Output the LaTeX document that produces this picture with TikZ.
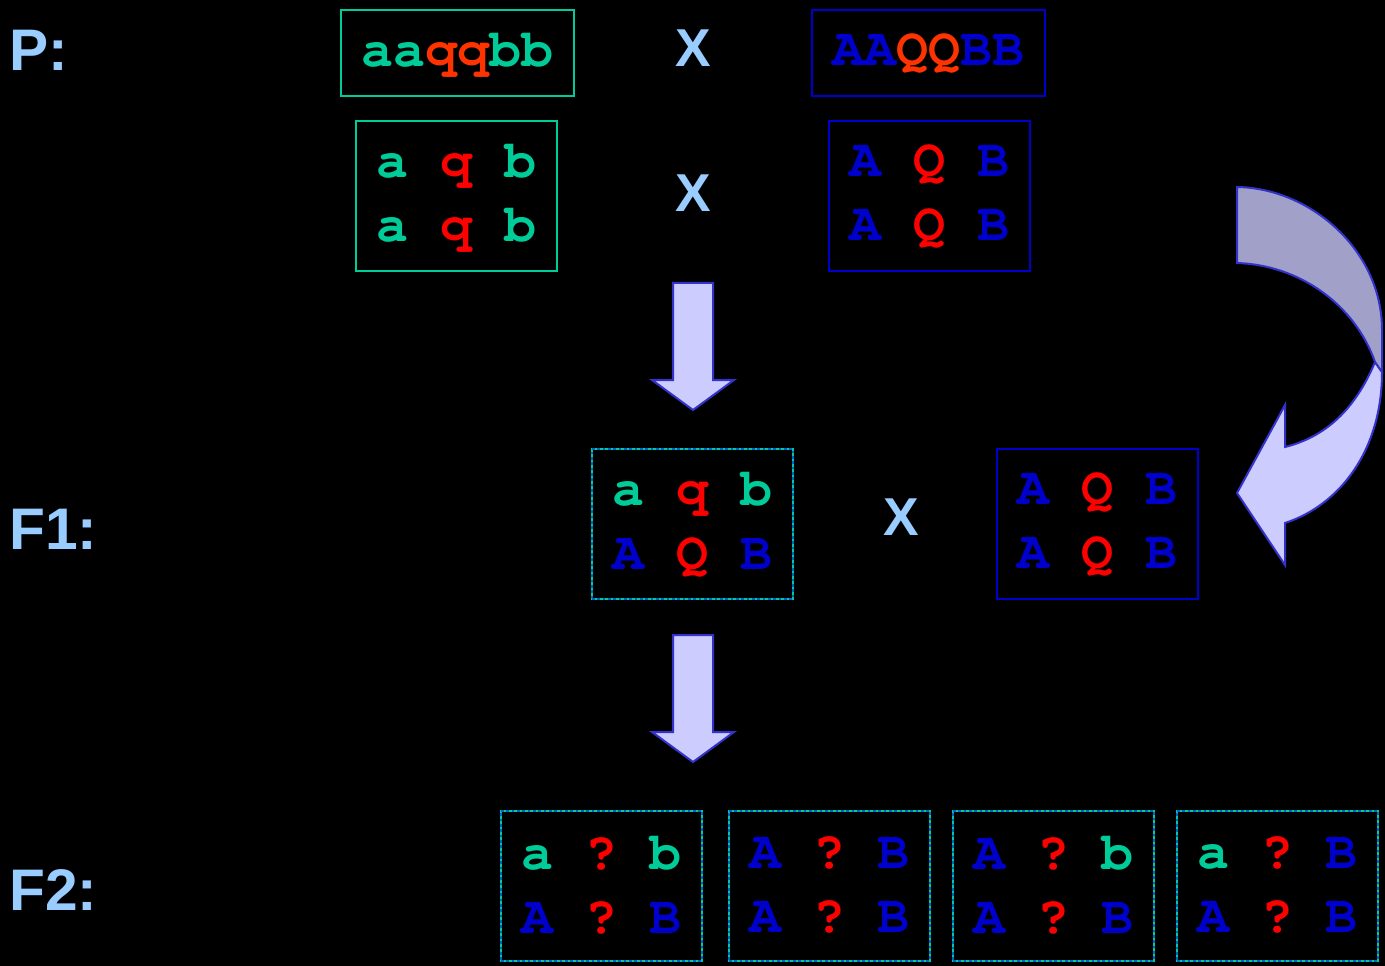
\documentclass[tikz,border=0pt]{standalone}
\usepackage[T1]{fontenc}
\usepackage{fontspec}
\setmainfont{Liberation Sans}
\setmonofont{Liberation Mono}
\usepackage{tikz}
\usetikzlibrary{positioning}

\definecolor{cgreen}{HTML}{00CC99}
\definecolor{cred}{HTML}{FF0000}
\definecolor{corange}{HTML}{FF3300}
\definecolor{cblue}{HTML}{0000CC}
\definecolor{cdash}{HTML}{0066CC}
\definecolor{clabel}{HTML}{99CCFF}
\definecolor{afill}{HTML}{CCCCFF}
\definecolor{adark}{HTML}{A0A0C8}
\definecolor{aline}{HTML}{3333CC}

% allele letters, set in bold Courier
\newcommand{\genefont}{\fontencoding{T1}\fontfamily{pcr}\fontseries{b}\selectfont\fontsize{40}{48}\selectfont\frenchspacing}
\newcommand{\Gn}[1]{\textcolor{cgreen}{#1}}
\newcommand{\Rd}[1]{\textcolor{cred}{#1}}
\newcommand{\Or}[1]{\textcolor{corange}{#1}}
\newcommand{\Bl}[1]{\textcolor{cblue}{#1}}

\tikzstyle{gen} = [line width=1.5pt, inner sep=0pt, align=center, font=\genefont,
  minimum width=150.75pt, minimum height=112.5pt]
\tikzstyle{pgen} = [gen, minimum width=174.75pt, minimum height=64.5pt]
\tikzstyle{greenbox} = [gen, draw=cgreen]
\tikzstyle{bluebox} = [gen, draw=cblue]
\tikzstyle{hybrid} = [gen, draw=cgreen, postaction={draw=cdash, dash pattern=on 2pt off 2pt}]
\tikzstyle{lbl} = [text=clabel, font=\bfseries\fontsize{44}{44}\selectfont, inner sep=0pt, anchor=base west]
\tikzstyle{cross} = [text=clabel, font=\bfseries\fontsize{40}{40}\selectfont, inner sep=0pt]
\tikzstyle{barrow} = [draw=aline, line width=1.5pt, fill=afill, line join=miter]

\tikzset{bigdown/.pic={
  \draw[barrow] (-20,0) -- (20,0) -- (20,97) -- (41,97) -- (0,127) -- (-41,97) -- (-20,97) -- cycle;
}}

\begin{document}
\begin{tikzpicture}[x=0.75pt,y=-0.75pt]
    \useasboundingbox (0,0) rectangle (1385,966);
    \fill[black] (0,0) rectangle (1385,966);

    % generation labels
    \node [lbl] (lp) at (9,71) {P:};
    \node [lbl] (lf1) at (9,549) {F1:};
    \node [lbl] (lf2) at (9,910) {F2:};

    % parents
    \node [pgen, draw=cgreen] (p1) at (457.5,53) {\Gn{aa}\Or{qq}\Gn{bb}};
    \node [pgen, draw=cblue] (p2) at (928,53) {\Bl{AA}\Or{QQ}\Bl{BB}};
    \node [cross] (x1) at (693,48) {X};

    \node [greenbox] (g1) at (456.5,196) {\Gn{a} \Rd{q} \Gn{b}\\\Gn{a} \Rd{q} \Gn{b}};
    \node [bluebox] (g2) at (929,196) {\Bl{A} \Rd{Q} \Bl{B}\\\Bl{A} \Rd{Q} \Bl{B}};
    \node [cross] (x2) at (693,193) {X};

    \pic (down1) at (693,283) {bigdown};

    % F1 and backcross
    \node [hybrid] (f1) at (692.5,524) {\Gn{a} \Rd{q} \Gn{b}\\\Bl{A} \Rd{Q} \Bl{B}};
    \node [bluebox] (bc) at (1097.5,524) {\Bl{A} \Rd{Q} \Bl{B}\\\Bl{A} \Rd{Q} \Bl{B}};
    \node [cross] (x3) at (901,517) {X};

    % curved arrow from the parent to the backcross
    \draw[barrow] (1382,372) .. controls (1382,450) and (1340,505) .. (1285,523)
        -- (1285,565) -- (1237,493) -- (1285,405) -- (1285,447)
        .. controls (1325,437) and (1355,410) .. (1375,362) -- cycle;
    \draw[barrow, fill=adark] (1237,187) .. controls (1310,188) and (1382,250) .. (1382,330)
        -- (1382,372) -- (1375,362) .. controls (1355,305) and (1300,265) .. (1237,263) -- cycle;

    \pic (down2) at (693,635) {bigdown};

    % F2
    \node [hybrid] (k1) at (601.5,885.5) {\Gn{a} \Rd{?} \Gn{b}\\\Bl{A} \Rd{?} \Bl{B}};
    \node [hybrid] (k2) at (829.5,885.5) {\Bl{A} \Rd{?} \Bl{B}\\\Bl{A} \Rd{?} \Bl{B}};
    \node [hybrid] (k3) at (1053.5,885.5) {\Bl{A} \Rd{?} \Gn{b}\\\Bl{A} \Rd{?} \Bl{B}};
    \node [hybrid] (k4) at (1277.5,885.5) {\Gn{a} \Rd{?} \Bl{B}\\\Bl{A} \Rd{?} \Bl{B}};
\end{tikzpicture}
\end{document}
